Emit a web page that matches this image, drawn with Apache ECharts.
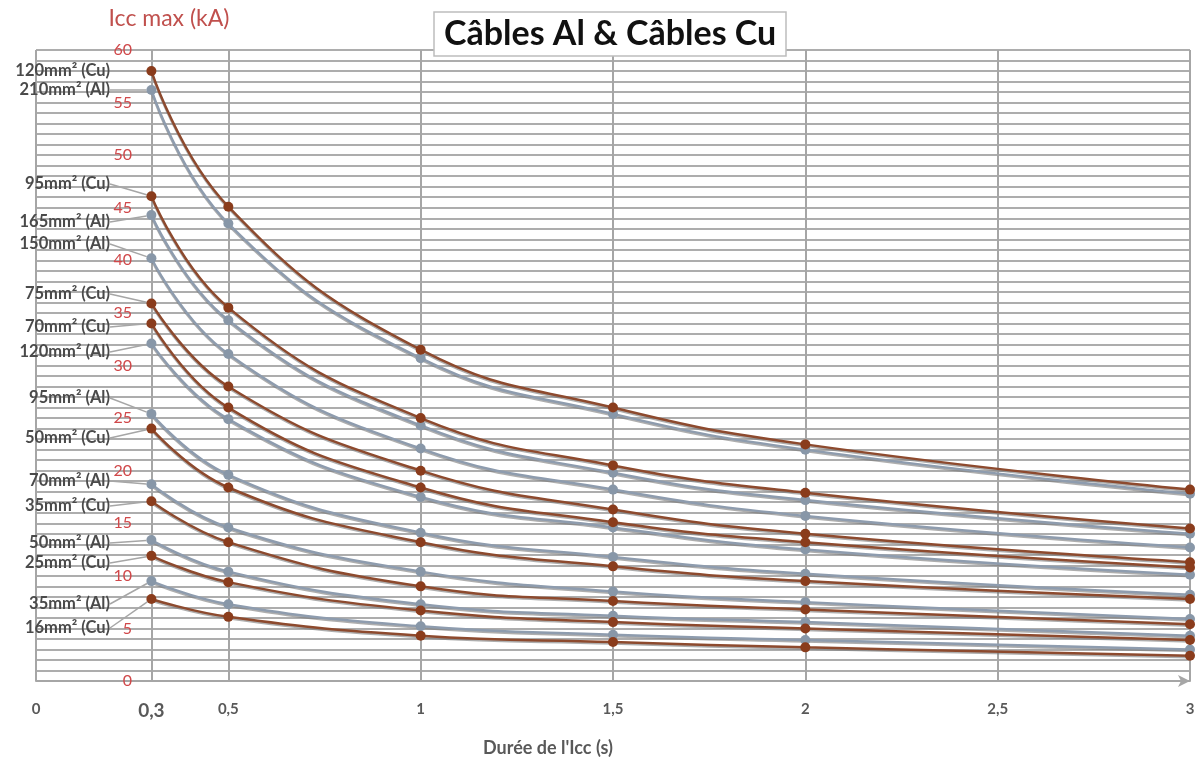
<!DOCTYPE html>
<html>
<head>
<meta charset="utf-8">
<script src="https://cdn.jsdelivr.net/npm/echarts@6/dist/echarts.min.js"></script>
<style>
  html, body { margin: 0; padding: 0; background: #fff; }
  #chart { width: 1203px; height: 762px; }
</style>
</head>
<body>
<div id="chart"></div>
<script>
// durées (s) des points mesurés
const durations = [0.3, 0.5, 1, 1.5, 2, 3];
const xTicks = [0, 0.3, 0.5, 1, 1.5, 2, 2.5, 3];
const xLabelTicks = [0, 0.5, 1, 1.5, 2, 2.5, 3];
const startTick = 0.3;

const cableNames = [
  '120mm² (Cu)', '210mm² (Al)', '95mm² (Cu)', '165mm² (Al)', '150mm² (Al)',
  '75mm² (Cu)', '70mm² (Cu)', '120mm² (Al)', '95mm² (Al)', '50mm² (Cu)',
  '70mm² (Al)', '35mm² (Cu)', '50mm² (Al)', '25mm² (Cu)', '35mm² (Al)', '16mm² (Cu)'
];

// Icc max (kA)
const cu120 = [58.0, 45.1, 31.5, 26.0, 22.5, 18.2];
const al210 = [56.2, 43.5, 30.7, 25.4, 22.0, 17.8];
const cu95 = [46.1, 35.5, 25.0, 20.5, 17.9, 14.5];
const al165 = [44.3, 34.3, 24.3, 19.8, 17.2, 14.0];
const al150 = [40.2, 31.1, 22.1, 18.2, 15.7, 12.7];
const cu75 = [35.9, 28.0, 20.0, 16.3, 14.0, 11.3];
const cu70 = [34.0, 26.0, 18.4, 15.1, 13.2, 10.8];
const al120 = [32.1, 24.9, 17.5, 14.6, 12.5, 10.1];
const al95 = [25.4, 19.6, 14.1, 11.8, 10.2, 8.2];
const cu50 = [24.0, 18.4, 13.2, 10.9, 9.5, 7.8];
const al70 = [18.7, 14.6, 10.4, 8.5, 7.5, 5.9];
const cu35 = [17.1, 13.2, 9.0, 7.6, 6.8, 5.4];
const al50 = [13.4, 10.4, 7.3, 6.2, 5.6, 4.3];
const cu25 = [11.9, 9.4, 6.7, 5.6, 5.0, 3.9];
const al35 = [9.5, 7.3, 5.2, 4.4, 3.9, 3.0];
const cu16 = [7.8, 6.1, 4.3, 3.7, 3.2, 2.4];

const allValues = [cu120, al210, cu95, al165, al150, cu75, cu70, al120,
  al95, cu50, al70, cu35, al50, cu25, al35, cu16];

// hauteur (px) des étiquettes à gauche
const labelY = [71, 90, 184, 222, 244, 294, 327, 352, 398, 438, 481, 506, 543, 563, 604, 628];

const chart = echarts.init(document.getElementById('chart'));

const series = cableNames.map((name, k) => {
  const isCu = name.indexOf('Cu') >= 0;
  return {
    name: name,
    type: 'line',
    smooth: 0.45,
    symbol: 'circle',
    symbolSize: 10,
    z: isCu ? 4 : 3,
    data: allValues[k].map((v, i) => i === 0
      ? {value: [durations[i], v], label: {show: true}}
      : [durations[i], v]),
    lineStyle: {
      color: isCu ? '#8d4a2e' : '#8e9cae',
      width: 2.5,
      shadowColor: 'rgba(120,120,120,0.6)',
      shadowOffsetY: 1.5
    },
    itemStyle: {color: isCu ? '#8a3c1c' : '#8897a8'},
    label: {
      show: false,
      formatter: '{a}',
      color: '#4a4a4a',
      fontFamily: 'Lato',
      fontWeight: 'bold',
      fontSize: 16.5
    },
    labelLayout: {x: 110, y: labelY[k], align: 'right', verticalAlign: 'middle'},
    labelLine: {show: true, lineStyle: {color: '#a6a6a6', width: 1.5}},
    emphasis: {disabled: true}
  };
});

chart.setOption({
  animation: false,
  textStyle: {fontFamily: 'Lato'},
  title: {
    text: 'Câbles Al & Câbles Cu',
    left: 434,
    top: 12,
    padding: [5, 10, 5, 10],
    backgroundColor: '#fff',
    borderColor: '#bdbdbd',
    borderWidth: 1.5,
    textStyle: {fontFamily: 'Lato', fontWeight: 'bold', fontSize: 34, color: '#111'}
  },
  grid: {left: 36, right: 13, top: 50, bottom: 74},
  xAxis: {
    type: 'value',
    min: 0,
    max: 3,
    name: "Durée de l'Icc (s)",
    nameLocation: 'middle',
    nameGap: 58,
    nameTextStyle: {color: '#595959', fontSize: 18, fontWeight: 'bold', padding: [0, 130, 0, 0]},
    axisLine: {
      show: true,
      symbol: ['none', 'arrow'],
      symbolSize: [9, 12],
      lineStyle: {color: '#a6a6a6', width: 2}
    },
    axisTick: {show: false, customValues: xTicks},
    axisLabel: {
      customValues: xLabelTicks,
      margin: 21,
      color: '#595959',
      fontSize: 15,
      fontWeight: 'bold',
      formatter: v => String(v).replace('.', ',')
    },
    splitLine: {show: true, lineStyle: {color: '#a6a6a6', width: 2}}
  },
  yAxis: {
    type: 'value',
    min: 0,
    max: 60,
    interval: 1,
    offset: -114,
    name: 'Icc max (kA)',
    nameLocation: 'end',
    nameGap: 20,
    nameTextStyle: {color: '#c0504d', fontSize: 23, padding: [0, 0, 0, 38]},
    axisLine: {show: false},
    axisTick: {show: false},
    axisLabel: {
      margin: 18,
      color: '#d0484a',
      fontSize: 16,
      formatter: v => v % 5 === 0 ? String(v) : ''
    },
    splitLine: {show: true, lineStyle: {color: '#adadad', width: 2}}
  },
  series: series
});

// étiquette « 0,3 » (plus grande) placée par l'échelle de l'axe
const p = chart.convertToPixel({xAxisIndex: 0, yAxisIndex: 0}, [startTick, 0]);
chart.setOption({
  graphic: [{
    type: 'text',
    x: p[0],
    y: p[1] + 20,
    style: {
      text: String(startTick).replace('.', ','),
      font: 'bold 19px Lato',
      fill: '#595959',
      align: 'center',
      verticalAlign: 'top'
    }
  }]
});
</script>
</body>
</html>
